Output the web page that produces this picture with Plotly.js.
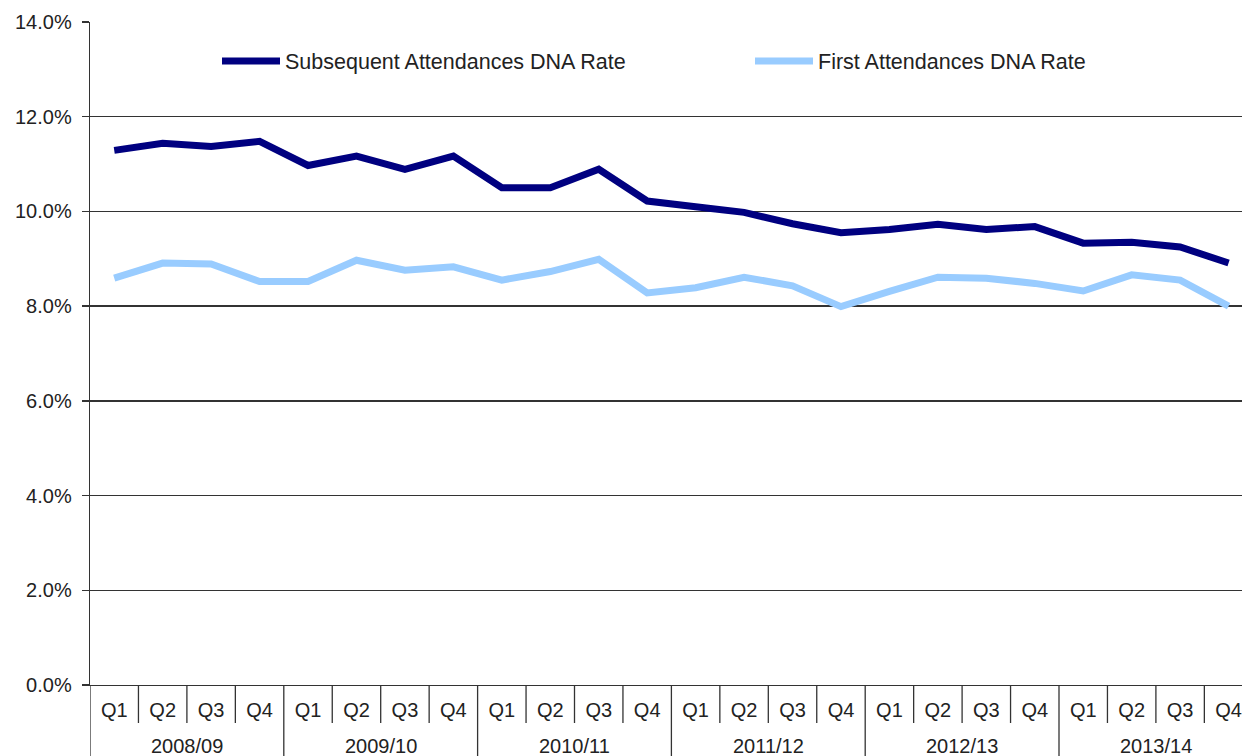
<!DOCTYPE html>
<html>
<head>
<meta charset="utf-8">
<script src="https://cdn.plot.ly/plotly-3.0.1.min.js"></script>
<style>html,body{margin:0;padding:0;background:#fff;}#chart{width:1242px;height:756px;}</style>
</head>
<body>
<div id="chart"></div>
<script>
const years = ["2008/09","2009/10","2010/11","2011/12","2012/13","2013/14"];
const quarters = ["Q1","Q2","Q3","Q4"];
const subsequentDNA = [11.29,11.44,11.37,11.48, 10.97,11.17,10.89,11.17, 10.50,10.50,10.89,10.22,
                       10.10,9.98,9.74,9.55, 9.62,9.73,9.62,9.68, 9.33,9.35,9.25,8.91];
const firstDNA = [8.59,8.91,8.89,8.52, 8.52,8.97,8.76,8.83, 8.55,8.73,8.99,8.28,
                  8.39,8.61,8.43,7.99, 8.31,8.61,8.59,8.48, 8.32,8.66,8.55,8.00];
const yTicks = [0,2,4,6,8,10,12,14];

const idx = subsequentDNA.map((_, i) => i);
const tickText = idx.map(i => quarters[i % 4]);
const lineCol = '#333333';
const font = {family: 'Liberation Sans, Arial, sans-serif', size: 20, color: '#222'};
const legFont = {family: 'Liberation Sans, Arial, sans-serif', size: 21.5, color: '#222'};

const H = 756, T = 22, B = 71;
const plotH = H - T - B;
const qDrop = -38 / plotH, yDrop = -(B + 2) / plotH;

const shapes = [];
for (let i = 0; i < idx.length; i++) {
  const isYear = (i % 4 === 0);
  shapes.push({type: 'line', xref: 'x', yref: 'paper', x0: i - 0.5, x1: i - 0.5,
    y0: 0, y1: isYear ? yDrop : qDrop, line: {color: lineCol, width: 1.3}});
}
const annotations = years.map((y, k) => ({
  text: y, xref: 'x', yref: 'paper', x: k * 4 + 1.5, y: -(61 / plotH),
  yanchor: 'middle', xanchor: 'center', showarrow: false, font: font
}));

const traces = [
  {x: idx, y: subsequentDNA, type: 'scatter', mode: 'lines', name: 'Subsequent Attendances DNA Rate',
   line: {color: '#000080', width: 7}, legend: 'legend'},
  {x: idx, y: firstDNA, type: 'scatter', mode: 'lines', name: 'First Attendances DNA Rate',
   line: {color: '#99CCFF', width: 7}, legend: 'legend2'}
];

const legBase = {orientation: 'h', xref: 'container', xanchor: 'left', yref: 'container',
  y: 1 - 61 / H, yanchor: 'middle', bgcolor: 'rgba(0,0,0,0)', font: legFont, itemwidth: 58};

const layout = {
  width: 1242, height: 756,
  margin: {l: 90, r: 0, t: T, b: B, pad: 0, autoexpand: false},
  paper_bgcolor: '#fff', plot_bgcolor: '#fff',
  font: font,
  showlegend: true,
  legend: Object.assign({}, legBase, {x: 217 / 1242}),
  legend2: Object.assign({}, legBase, {x: 750 / 1242}),
  xaxis: {range: [-0.5, -0.5 + 1152 / 48.45], tickvals: idx, ticktext: tickText, ticks: '',
          showgrid: false, zeroline: false, showline: true, linecolor: lineCol, linewidth: 1.3,
          tickfont: font, ticklabelstandoff: 7, automargin: false},
  yaxis: {range: [0, 14], tickvals: yTicks, ticktext: yTicks.map(v => v.toFixed(1) + '%'),
          showgrid: true, gridcolor: lineCol, gridwidth: 1.3, zeroline: false,
          showline: true, linecolor: lineCol, linewidth: 1.3, ticks: 'outside', ticklen: 7,
          tickcolor: lineCol, tickwidth: 1.3, tickfont: font, ticklabelstandoff: 6, automargin: false},
  shapes: shapes,
  annotations: annotations
};

Plotly.newPlot('chart', traces, layout, {displayModeBar: false, staticPlot: true});
</script>
</body>
</html>
